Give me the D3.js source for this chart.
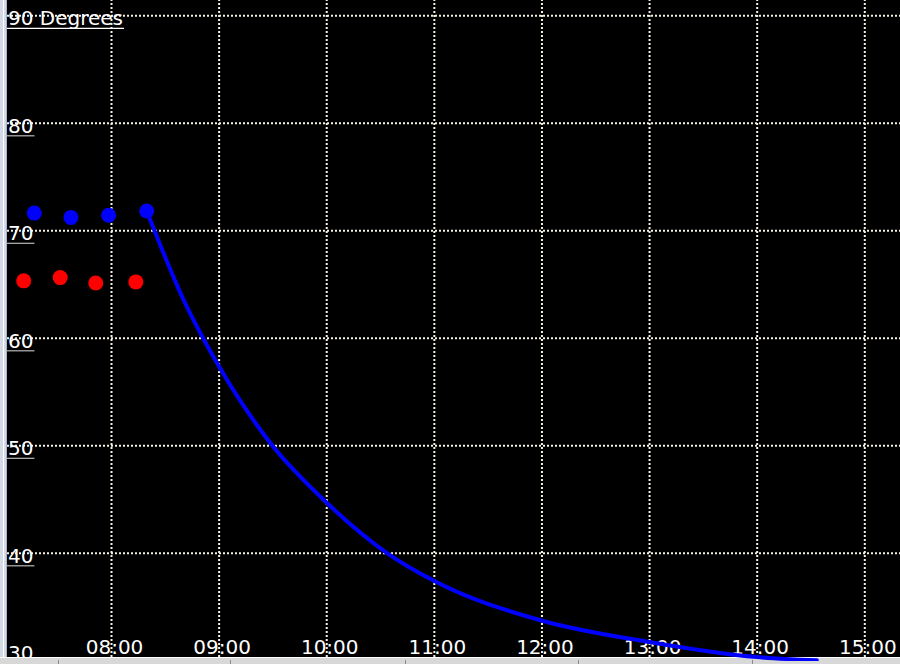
<!DOCTYPE html>
<html><head><meta charset="utf-8">
<script src="https://cdn.jsdelivr.net/npm/d3@7"></script>
<style>
html,body{margin:0;padding:0;background:#000;overflow:hidden}
svg{display:block}
text{font-family:"DejaVu Sans",Verdana,sans-serif;font-size:20px;fill:#fff}
</style></head>
<body>
<svg id="c" width="900" height="664"></svg>
<script>
// ---- data ----
const yTicks = [30, 40, 50, 60, 70, 80, 90];
const yTickLabels = ["30", "40", "50", "60", "70", "80", "90 Degrees"];
const xTicks = ["08:00", "09:00", "10:00", "11:00", "12:00", "13:00", "14:00", "15:00"];
const blueTimes = ["07:17:12", "07:37:40", "07:58:40", "08:19:54"];
const blueValues = [71.6, 71.2, 71.4, 71.8];
const redTimes = ["07:11:20", "07:31:40", "07:51:30", "08:13:50"];
const redValues = [65.3, 65.6, 65.1, 65.2];
const curveTimes = ["08:19:54", "08:30:00", "08:40:00", "08:50:35", "09:00:00", "09:29:50", "10:00:00", "10:33:40", "11:00:00", "12:00:00", "13:00:00", "14:00:00", "14:33:30"];
const curveValues = [71.8, 67.6, 63.7, 60.2, 57.4, 50.0, 44.7, 40.0, 37.4, 33.7, 31.7, 30.3, 30.0];

const parse = d3.timeParse("%H:%M:%S");
const parseHM = d3.timeParse("%H:%M");

const svg = d3.select("#c");
const W = 900, H = 664;
const plotLeft = 7, plotBottom = 657;

const x = d3.scaleTime().domain([parseHM("08:00"), parseHM("15:00")]).range([111, 864.3]);
const y = d3.scaleLinear().domain([30, 90]).range([660.3, 15.3]);

// background
svg.append("rect").attr("x", 0).attr("y", 0).attr("width", W).attr("height", H).attr("fill", "#000");

const gridColor = "#f4f0e2";

// horizontal grid via axis
const gy = svg.append("g").attr("transform", `translate(${plotLeft},0)`)
  .call(d3.axisRight(y).tickValues(yTicks).tickSize(W - plotLeft).tickFormat(""));
gy.select(".domain").remove();
gy.selectAll(".tick line").attr("stroke", gridColor).attr("stroke-width", 2).attr("stroke-dasharray", "2,2");

// vertical grid via axis
const gx = svg.append("g").attr("transform", `translate(0,${plotBottom})`)
  .call(d3.axisTop(x).tickValues(xTicks.map(parseHM)).tickSize(plotBottom).tickFormat(""));
gx.select(".domain").remove();
gx.selectAll(".tick line").attr("stroke", gridColor).attr("stroke-width", 2).attr("stroke-dasharray", "2,2");

// y labels
const yl = svg.append("g").attr("transform", "translate(8,0)")
  .call(d3.axisRight(y).tickValues(yTicks).tickSize(0).tickPadding(0)
    .tickFormat(d => yTickLabels[yTicks.indexOf(d)]));
yl.select(".domain").remove();
yl.selectAll(".tick text").attr("fill", "#fff").attr("font-size", 20)
  .attr("font-family", '"DejaVu Sans",Verdana,sans-serif')
  .attr("text-anchor", "start").attr("x", 0).attr("dy", d => d === 30 ? -1 : 9.5);
yl.selectAll(".tick").each(function(d) {
  const t = d3.select(this).select("text");
  const len = t.node().getComputedTextLength();
  d3.select(this).append("line").attr("x1", -1).attr("x2", len + 1)
    .attr("y1", 12.5).attr("y2", 12.5)
    .attr("stroke", d === 90 ? "#ffffff" : "#b8b8b8").attr("stroke-width", 1.2);
});

// x labels
const xl = svg.append("g").attr("transform", "translate(3,0)")
  .call(d3.axisBottom(x).tickValues(xTicks.map(parseHM)).tickSize(0).tickFormat(d3.timeFormat("%H:%M")));
xl.select(".domain").remove();
xl.selectAll(".tick text").attr("fill", "#fff").attr("font-size", 20)
  .attr("font-family", '"DejaVu Sans",Verdana,sans-serif')
  .attr("y", 653.5).attr("dy", 0);

// points
svg.append("g").selectAll("circle").data(redTimes.map((t, i) => ({t: parse(t), v: redValues[i]})))
  .join("circle").attr("cx", d => x(d.t)).attr("cy", d => y(d.v)).attr("r", 7.5).attr("fill", "#ff0000");

// left frame strip
svg.append("rect").attr("x", 0).attr("y", 0).attr("width", plotLeft).attr("height", H).attr("fill", "#d4d9e6");
svg.append("line").attr("x1", 3.5).attr("x2", 3.5).attr("y1", 0).attr("y2", H).attr("stroke", "#ffffff").attr("stroke-width", 1);
svg.append("line").attr("x1", 6.5).attr("x2", 6.5).attr("y1", 0).attr("y2", H).attr("stroke", "#aab3cc").attr("stroke-width", 1);

// bottom strip
svg.append("rect").attr("x", 0).attr("y", plotBottom).attr("width", W).attr("height", H - plotBottom).attr("fill", "#d8d8d8");
svg.append("line").attr("x1", 0).attr("x2", W).attr("y1", plotBottom + 0.5).attr("y2", plotBottom + 0.5).attr("stroke", "#ffffff");
[58, 230, 405, 578, 752].forEach(sx => {
  svg.append("line").attr("x1", sx + 0.5).attr("x2", sx + 0.5).attr("y1", plotBottom + 3).attr("y2", H)
    .attr("stroke", "#8a8a8a").attr("stroke-width", 1);
});

// curve (drawn last, slightly over the bottom edge like the reference)
svg.append("clipPath").attr("id", "cl").append("rect").attr("x", plotLeft).attr("y", 0).attr("width", W).attr("height", 661);
const line = d3.line().x(d => x(d.t)).y(d => y(d.v)).curve(d3.curveMonotoneX);
const curveData = curveTimes.map((t, i) => ({t: parse(t), v: curveValues[i]}));
svg.append("path").datum(curveData).attr("d", line).attr("clip-path", "url(#cl)")
  .attr("fill", "none").attr("stroke", "#0000ff").attr("stroke-width", 4).attr("stroke-linecap", "round");

svg.append("g").selectAll("circle").data(blueTimes.map((t, i) => ({t: parse(t), v: blueValues[i]})))
  .join("circle").attr("cx", d => x(d.t)).attr("cy", d => y(d.v)).attr("r", 7.5).attr("fill", "#0000ff");
</script>
</body></html>
